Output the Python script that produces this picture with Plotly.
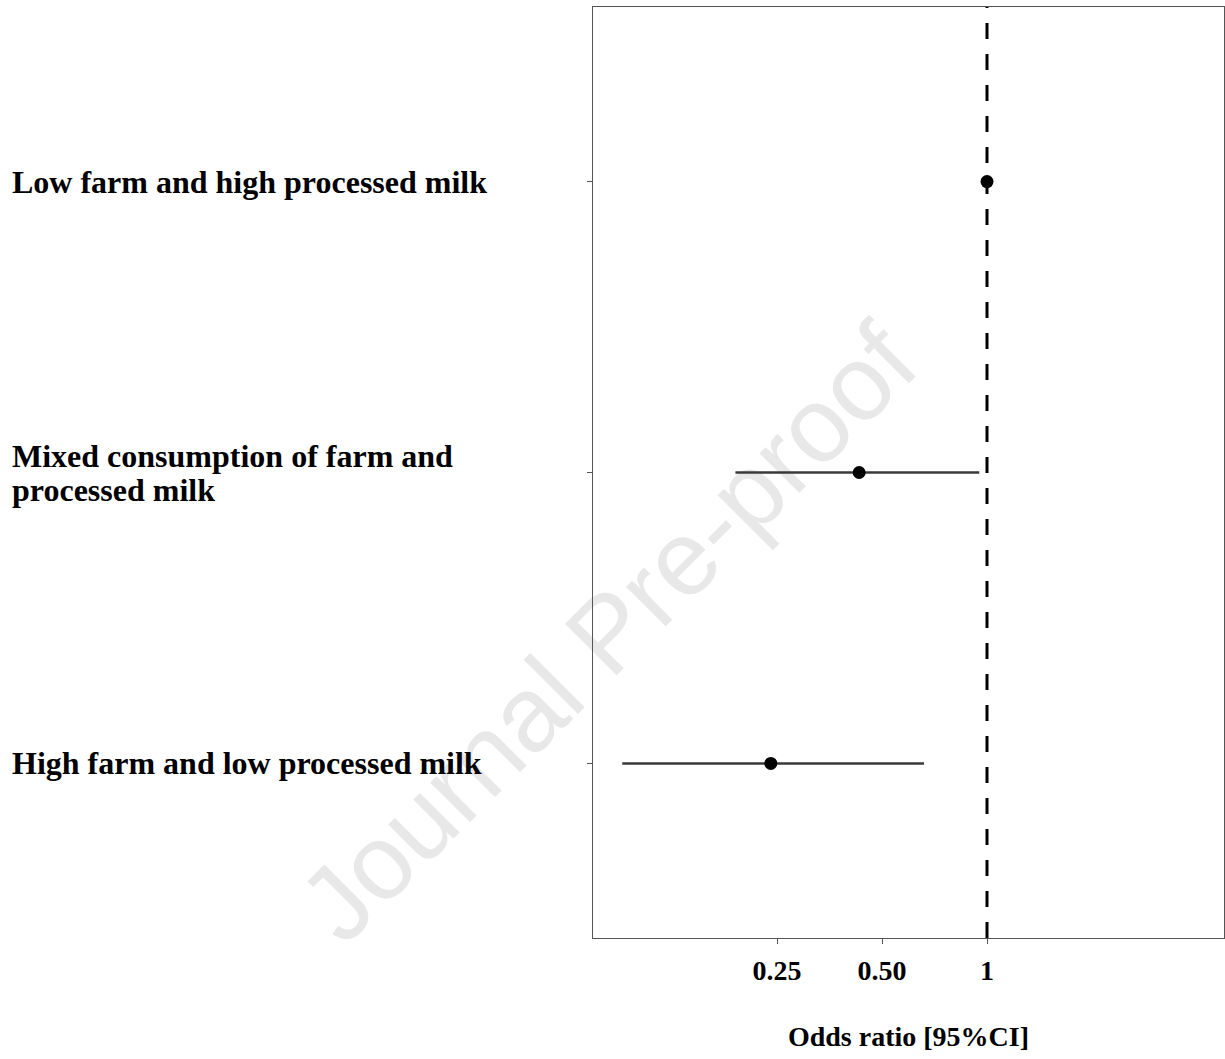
import plotly.graph_objects as go

# ---- data ----
categories = [
    "Low farm and high processed milk",
    "Mixed consumption of farm and<br>processed milk",
    "High farm and low processed milk",
]
odds_ratio = [1.0, 0.43, 0.24]
ci_low = [1.0, 0.19, 0.09]
ci_high = [1.0, 0.95, 0.66]
tick_vals = [0.25, 0.5, 1]
tick_text = ["0.25", "0.50", "1"]
reference_value = 1
x_title = "Odds ratio [95%CI]"
watermark = "Journal Pre-proof"

W, H = 1225, 1059
L, R, T, B = 593, 1, 7, 121
pw, ph = W - L - R, H - T - B

def px_to_paper(px, py):
    return (px - L) / pw, (H - B - py) / ph

serif = "Liberation Serif"

fig = go.Figure()
fig.add_trace(go.Scatter(
    x=odds_ratio,
    y=categories,
    mode="markers",
    marker=dict(color="black", size=13),
    error_x=dict(
        type="data",
        symmetric=False,
        array=[h - o for h, o in zip(ci_high, odds_ratio)],
        arrayminus=[o - l for o, l in zip(odds_ratio, ci_low)],
        color="#3a3a3a",
        thickness=2.6,
        width=0,
    ),
    showlegend=False,
    hoverinfo="skip",
))

# reference dashed line
fig.add_shape(type="line", xref="x", yref="paper",
              x0=reference_value, x1=reference_value, y0=0, y1=1,
              line=dict(color="black", width=3, dash="16px,15px"))

# watermark (below data)
x0p, y0p = px_to_paper(342, 970)
x1p, y1p = px_to_paper(942, 370)
fig.add_shape(type="line", xref="paper", yref="paper",
              x0=x0p, y0=y0p, x1=x1p, y1=y1p, layer="below",
              line=dict(color="rgba(0,0,0,0)", width=0),
              label=dict(text=watermark, textangle=-45, textposition="middle",
                         font=dict(family="Liberation Sans", size=106, color="#e8e8e8")))

# category labels, left aligned
lx, _ = px_to_paper(10, 0)
line_gap = 34
for c in categories:
    parts = c.split("<br>")
    n = len(parts)
    for i, p in enumerate(parts):
        fig.add_annotation(x=lx, xref="paper", y=c, yref="y", text=p,
                           xanchor="left", yanchor="middle", align="left",
                           yshift=((n - 1) / 2 - i) * line_gap,
                           showarrow=False,
                           font=dict(family=serif, size=32, color="black", weight="bold"))

axis_color = "#555555"
fig.update_xaxes(
    type="log",
    range=[-1.1296, 0.6795],
    tickvals=tick_vals,
    ticktext=tick_text,
    ticks="outside", ticklen=5, tickwidth=1.2, tickcolor=axis_color,
    ticklabelstandoff=2,
    tickfont=dict(family=serif, size=28, color="black", weight="bold"),
    showline=True, linecolor=axis_color, linewidth=1.3, mirror=True,
    showgrid=False, zeroline=False,
    title=dict(text=x_title, standoff=41,
               font=dict(family=serif, size=28, color="black", weight="bold")),
)
fig.update_yaxes(
    type="category",
    categoryorder="array", categoryarray=categories,
    range=[2.6, -0.6],
    showticklabels=False,
    ticks="outside", ticklen=5, tickwidth=1.2, tickcolor=axis_color,
    showline=True, linecolor=axis_color, linewidth=1.3, mirror=True,
    showgrid=False, zeroline=False,
)
fig.update_layout(
    width=W, height=H,
    margin=dict(l=L, r=R, t=T, b=B, autoexpand=False),
    paper_bgcolor="white", plot_bgcolor="white",
)
fig.write_html("out.html", config={"displayModeBar": False},
               post_script="document.body.style.margin='0';document.body.style.padding='0';")
